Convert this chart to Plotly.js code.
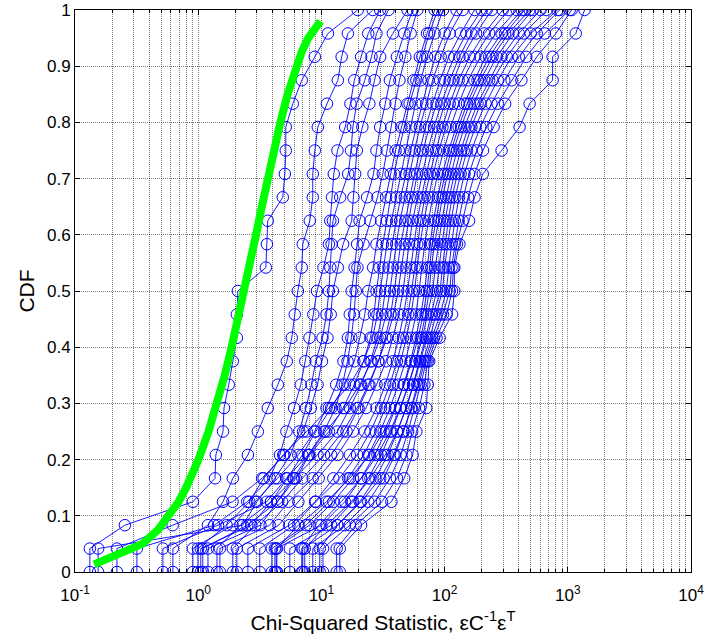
<!DOCTYPE html>
<html>
<head>
<meta charset="utf-8">
<script src="https://cdn.plot.ly/plotly-3.0.1.min.js"></script>
<style>
html,body{margin:0;padding:0;background:#fff;}
#chart{width:704px;height:642px;}
</style>
</head>
<body>
<div id="chart"></div>
<script>
// Empirical CDF levels (k/24)
const cdfLevels = [0, 0.0417, 0.0833, 0.125, 0.1667, 0.2083, 0.25, 0.2917, 0.3333, 0.375, 0.4167, 0.4583, 0.5,
  0.5417, 0.5833, 0.625, 0.6667, 0.7083, 0.75, 0.7917, 0.8333, 0.875, 0.9167, 0.9583, 1];

// Sorted chi-squared statistics of each run (24 samples each)
const run01 = [0.132, 0.254, 0.905, 1.37, 1.39, 1.59, 1.62, 1.77, 1.91, 2.06, 2.06, 2.10, 3.54, 3.61, 3.67, 4.86, 5.05, 5.14, 5.14, 5.86, 6.93, 8.84, 11.3, 19.7];
const run02 = [0.623, 1.20, 1.59, 1.91, 2.53, 3.05, 3.67, 4.43, 5.24, 5.75, 6.08, 6.44, 6.93, 7.06, 8.05, 8.51, 8.51, 8.84, 9.35, 11.1, 13.6, 14.6, 16.4, 26.1];
const run03 = [0.318, 1.35, 2.5, 3.8, 4.6, 5.2, 6.0, 6.8, 7.4, 8.0, 8.6, 9.2, 10.4, 11.5, 11.8, 12.2, 12.6, 13.5, 15.6, 17.2, 18.5, 21, 24, 30];
const run04 = [0.154, 2.3, 3.0, 4.2, 5.6, 6.6, 7.5, 8.3, 9.0, 10.2, 11.0, 11.5, 11.8, 12.1, 12.4, 14.2, 16.5, 17.4, 18.0, 19.3, 22.5, 25.5, 28, 35];
const run05 = [0.219, 0.62, 1.9, 3.3, 5.0, 7.1, 8.2, 9.3, 10.1, 11.2, 11.9, 12.4, 13.6, 15.0, 17.6, 18.2, 18.8, 19.4, 21.5, 24.5, 27, 30, 38, 50];
const run06 = [0.905, 1.9, 2.9, 4.4, 6.5, 8.8, 11.0, 13.2, 15.1, 16.4, 17.0, 17.6, 18.6, 19.5, 20.4, 23.5, 26.5, 28, 30, 33, 36, 41, 47, 55];
const run07 = [0.517, 1.45, 3.6, 5.2, 7.8, 10.5, 13.0, 14.8, 16.3, 17.5, 18.4, 19.0, 19.6, 22.0, 25.0, 28.5, 31.5, 34, 37, 40, 43, 48, 53, 60];
const run08 = [1.05, 2.7, 3.9, 5.3, 7.0, 9.0, 12.0, 15.5, 18.5, 20.5, 22.5, 24.0, 26.3, 28.0, 30.5, 33.5, 36.5, 40.0, 44.5, 50, 56, 63, 72, 83];
const run09 = [1.09, 2.5, 4.4, 6.2, 8.0, 11.5, 15.0, 18.5, 22.0, 25.0, 26.7, 28.0, 29.6, 31.5, 34, 36.5, 39, 42.5, 47, 52, 59, 66, 75, 88];
const run10 = [0.995, 1.7, 2.6, 3.4, 4.9, 7.6, 11.5, 17.0, 22.0, 26.0, 28.5, 30.0, 31.8, 34.0, 37.0, 40.5, 44.0, 48, 53, 58, 64, 72, 83, 97];
const run11 = [1.42, 2.2, 3.9, 6.0, 9.3, 13.5, 17.0, 21.0, 25.0, 28.5, 31.0, 33.0, 35.0, 37.5, 40.5, 44.0, 48.5, 53, 59, 66, 74, 84, 100, 125];
const run12 = [1.2, 3.2, 4.4, 5.9, 7.9, 10.8, 15.5, 20.5, 25.5, 30.0, 33.5, 36.0, 38.0, 40.5, 43.5, 47.5, 52, 57, 63, 71, 80, 93, 110, 140];
const run13 = [1.5, 3.8, 5.4, 8.5, 12.0, 16.0, 20.0, 24.5, 29.0, 33.0, 36.5, 39.0, 41.5, 44.0, 48.0, 52.0, 57, 63, 70, 80, 92, 108, 135, 175];
const run14 = [1.91, 2.9, 4.8, 7.0, 10.5, 15.0, 19.5, 24.0, 29.0, 34.0, 38.5, 42.0, 44.5, 47.5, 51, 55, 60, 67, 75, 86, 100, 120, 150, 200];
const run15 = [2.06, 4.5, 6.5, 9.5, 13.5, 18.0, 23.0, 28.0, 33.5, 38.0, 42.5, 46.0, 48.5, 51.5, 55, 60, 66, 73, 82, 94, 110, 132, 165, 219];
const run16 = [2.53, 5.5, 8.9, 12.5, 17.0, 22.5, 28.0, 33.0, 38.0, 42.5, 46.5, 50.0, 53, 56, 60, 65, 71, 79, 88, 100, 118, 140, 180, 241];
const run17 = [3.16, 6.0, 9.0, 14.0, 19.5, 25.0, 30.5, 36.0, 41.0, 46.0, 50.5, 54.0, 57, 60, 64, 69, 76, 85, 96, 110, 130, 160, 210, 296];
const run18 = [3.96, 7.5, 11.5, 16.5, 22.0, 27.5, 33.0, 38.5, 44.0, 49.0, 53.5, 57.0, 60, 63, 68, 74, 81, 90, 102, 118, 140, 175, 230, 330];
const run19 = [4.19, 8.0, 12.5, 18.0, 24.0, 30.0, 36.0, 42.0, 48.0, 53.5, 58.5, 62.0, 65, 69, 74, 80, 88, 98, 112, 130, 155, 195, 260, 385];
const run20 = [4.3, 10.0, 15.5, 21.0, 27.0, 33.5, 40.0, 46.5, 53.0, 58.5, 64.0, 69.0, 72, 76, 81, 88, 96, 108, 124, 145, 175, 215, 290, 422];
const run21 = [4.35, 6.5, 11.0, 17.0, 24.5, 32.0, 39.5, 47.0, 54.0, 61.0, 67.0, 72.0, 75, 79, 85, 92, 101, 113, 130, 152, 185, 230, 310, 446];
const run22 = [5.54, 12.0, 18.0, 24.0, 30.5, 37.0, 44.0, 51.0, 58.0, 64.0, 70.0, 75.0, 78, 83, 89, 96, 106, 118, 136, 160, 195, 245, 330, 490];
const run23 = [6.93, 9.5, 14.5, 21.0, 28.5, 36.0, 43.5, 51.0, 58.5, 66.0, 73.0, 80.0, 84, 89, 95, 103, 113, 126, 145, 172, 210, 265, 360, 518];
const run24 = [7.06, 13.5, 20.5, 27.5, 34.5, 41.5, 48.5, 55.5, 62.5, 70.0, 78.0, 86.0, 90, 95, 101, 109, 120, 135, 156, 185, 230, 290, 400, 600];
const run25 = [7.33, 11.0, 17.5, 25.0, 33.0, 41.0, 49.0, 56.0, 63.5, 72.0, 82.0, 92.0, 96, 101, 107, 115, 127, 143, 165, 196, 245, 320, 440, 673];
const run26 = [8.51, 15.5, 24.0, 32.0, 39.5, 46.5, 53.5, 60.0, 67.0, 76.0, 86.0, 96.0, 100, 106, 113, 122, 135, 152, 178, 215, 270, 350, 500, 826];
const run27 = [9.7, 13.5, 21.0, 30.0, 38.5, 46.0, 54.0, 61.5, 69.0, 79.0, 92.0, 103.0, 108, 114, 121, 131, 145, 165, 195, 240, 305, 400, 560, 858];
const run28 = [10.3, 17.0, 27.0, 36.0, 44.0, 50.5, 57.0, 64.0, 71.0, 82.0, 97.0, 110.0, 114, 121, 130, 142, 158, 182, 218, 270, 350, 460, 650, 1035];
const run29 = [13.3, 19.0, 31.0, 41.0, 49.0, 54.5, 62.0, 68.5, 73.0, 86.0, 104.0, 115.0, 118, 126, 140, 155, 175, 205, 250, 310, 420, 560, 800, 1074];
const run30 = [14.1, 21, 37, 47, 55, 59, 71, 73, 75, 91, 115, 120, 120, 132, 158, 175, 204, 290, 406, 490, 753, 753, 1160, 1368];

const runs = [run01, run02, run03, run04, run05, run06, run07, run08, run09, run10,
  run11, run12, run13, run14, run15, run16, run17, run18, run19, run20,
  run21, run22, run23, run24, run25, run26, run27, run28, run29, run30];

// Theoretical chi-squared CDF curve (green)
const theoryX = [0.143, 0.352, 0.472, 0.584, 0.693, 0.798, 1.005, 1.213, 1.424, 1.642, 1.869, 2.109, 2.366, 2.643, 2.946, 3.283, 3.665, 4.108, 4.642, 5.317, 6.251, 6.9, 7.815, 9.837];
const theoryCdf = [0.0136, 0.05, 0.075, 0.1, 0.125, 0.15, 0.2, 0.25, 0.3, 0.35, 0.4, 0.45, 0.5, 0.55, 0.6, 0.65, 0.7, 0.75, 0.8, 0.85, 0.9, 0.925, 0.95, 0.98];

// Axis tick labels
const decadeVals = [0.1, 1, 10, 100, 1000, 10000];
const decadeLabels = ['10<sup>-1</sup>', '10<sup>0</sup>', '10<sup>1</sup>', '10<sup>2</sup>', '10<sup>3</sup>', '10<sup>4</sup>'];
const minorSteps = [2, 3, 4, 5, 6, 7, 8, 9];

const minorVals = [];
decadeVals.slice(0, -1).forEach(d => minorSteps.forEach(m => minorVals.push(m * d)));

const traces = runs.map(r => ({
  type: 'scatter',
  mode: 'lines+markers',
  x: [r[0]].concat(r),
  y: cdfLevels,
  line: {color: '#0000ff', width: 0.9},
  marker: {symbol: 'circle-open', size: 11.5, color: '#0000ff', line: {width: 1, color: '#0000ff'}},
  hoverinfo: 'x+y',
  showlegend: false
}));

traces.push({
  type: 'scatter',
  mode: 'lines',
  x: theoryX,
  y: theoryCdf,
  line: {color: '#00ff00', width: 8},
  showlegend: false
});

const font = 'Liberation Sans, Arial, sans-serif';
const gridCol = 'rgba(0,0,0,0.5)';
const layout = {
  width: 704, height: 642,
  margin: {l: 75, r: 13, t: 10, b: 70},
  paper_bgcolor: '#ffffff', plot_bgcolor: '#ffffff',
  font: {family: font, color: '#000'},
  showlegend: false,
  xaxis: {
    type: 'log', range: [-1, 4],
    tickmode: 'array', tickvals: decadeVals, ticktext: decadeLabels,
    ticks: 'inside', ticklen: 5, tickwidth: 1, tickcolor: '#000',
    showline: true, linecolor: '#000', linewidth: 1, mirror: 'ticks',
    showgrid: true, gridcolor: gridCol, griddash: '1px,1px', gridwidth: 1,
    minor: {tickmode: 'array', tickvals: minorVals, ticks: 'inside', ticklen: 3, tickcolor: '#000',
            showgrid: true, gridcolor: gridCol, griddash: '1px,1px', gridwidth: 1},
    zeroline: false,
    ticklabelstandoff: 8,
    ticklabeloverflow: 'allow',
    tickfont: {family: font, size: 17, color: '#000'},
    title: {text: 'Chi-Squared Statistic, \u03b5C<sup>-1</sup>\u03b5<sup>T</sup>', font: {family: font, size: 21, color: '#000'}, standoff: 10},
    automargin: false
  },
  yaxis: {
    range: [0, 1], tickmode: 'linear', tick0: 0, dtick: 0.1,
    ticks: 'inside', ticklen: 5, tickwidth: 1, tickcolor: '#000',
    showline: true, linecolor: '#000', linewidth: 1, mirror: 'ticks',
    showgrid: true, gridcolor: gridCol, griddash: '1px,1px', gridwidth: 1,
    zeroline: false,
    tickfont: {family: font, size: 17, color: '#000'},
    title: {text: 'CDF', font: {family: font, size: 21, color: '#000'}, standoff: 6},
    automargin: false
  }
};

Plotly.newPlot('chart', traces, layout, {displayModeBar: false, staticPlot: true});
</script>
</body>
</html>
